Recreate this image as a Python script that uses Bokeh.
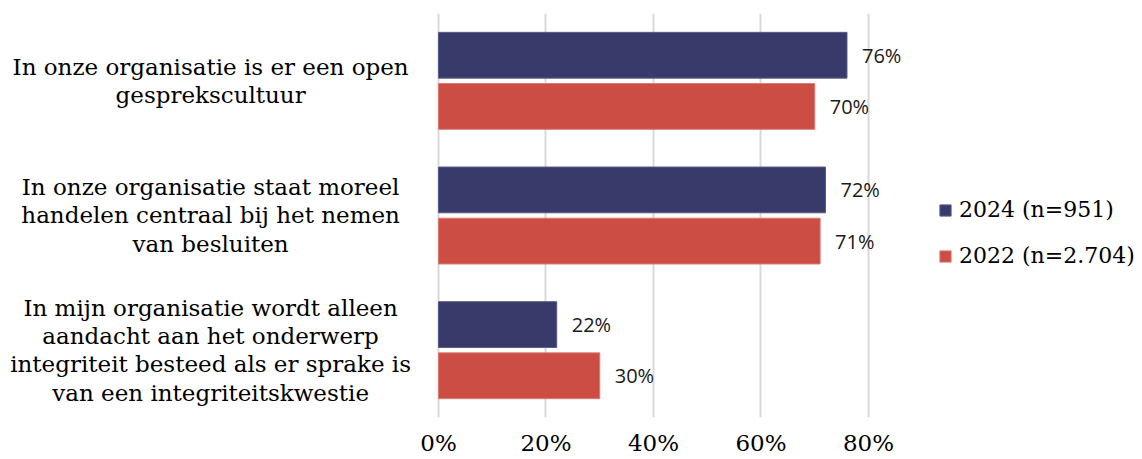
from bokeh.plotting import figure
from bokeh.models import (ColumnDataSource, FactorRange, Range1d, FixedTicker,
                          PrintfTickFormatter, Legend, LegendItem)
from bokeh.transform import dodge
from bokeh.core.properties import value
from bokeh.embed import file_html
from bokeh.resources import INLINE

# ---- data ----
categories = [
    "In onze organisatie is er een open\ngesprekscultuur",
    "In onze organisatie staat moreel\nhandelen centraal bij het nemen\nvan besluiten",
    "In mijn organisatie wordt alleen\naandacht aan het onderwerp\nintegriteit besteed als er sprake is\nvan een integriteitskwestie",
]
values_2024 = [76, 72, 22]
values_2022 = [70, 71, 30]
series_names = ["2024 (n=951)", "2022 (n=2.704)"]
tick_values = [0, 20, 40, 60, 80]

NAVY = "#383B69"
RED = "#CB4D44"
SERIF = "DejaVu Serif"
SANS = "Open Sans"

src = ColumnDataSource(dict(
    cat=categories,
    v24=values_2024,
    v22=values_2022,
    l24=[f"{v}%" for v in values_2024],
    l22=[f"{v}%" for v in values_2022],
    labx=[-42.4] * len(categories),
))

p = figure(width=1142, height=459, output_backend="svg", toolbar_location=None,
           y_range=FactorRange(factors=list(reversed(categories)), range_padding=0),
           x_range=Range1d(-81.49, 130.98),
           min_border_left=0, min_border_right=0, min_border_top=13,
           min_border_bottom=42)
p.outline_line_color = None
p.background_fill_color = "white"
p.border_fill_color = "white"

OFF = 0.19
H = 0.34
r24 = p.hbar(y=dodge("cat", OFF, range=p.y_range), left=0, right="v24", height=H,
             source=src, fill_color=NAVY, line_color="#5a5d88", line_width=1)
r22 = p.hbar(y=dodge("cat", -OFF, range=p.y_range), left=0, right="v22", height=H,
             source=src, fill_color=RED, line_color="#dc7a73", line_width=1)

p.text(x="v24", y=dodge("cat", OFF, range=p.y_range), text="l24", source=src,
       x_offset=15, text_align="left", text_baseline="middle",
       text_font=value(SANS), text_font_size="20px", text_color="#1a1a1a")
p.text(x="v22", y=dodge("cat", -OFF, range=p.y_range), text="l22", source=src,
       x_offset=15, text_align="left", text_baseline="middle",
       text_font=value(SANS), text_font_size="20px", text_color="#1a1a1a")

# category labels
p.text(x="labx", y="cat", text="cat", source=src, text_align="center",
       text_baseline="middle", text_font=value(SERIF), text_font_size="23px",
       text_line_height=1.09, text_color="#000000")

p.yaxis.visible = False
p.ygrid.visible = False
p.xgrid.ticker = FixedTicker(ticks=tick_values)
p.xgrid.grid_line_color = "#D9D9D9"
p.xgrid.grid_line_width = 2
p.xaxis.ticker = FixedTicker(ticks=tick_values)
p.xaxis.formatter = PrintfTickFormatter(format="%d%%")
p.xaxis.axis_line_color = None
p.xaxis.major_tick_line_color = None
p.xaxis.minor_tick_line_color = None
p.xaxis.major_label_standoff = 6
p.xaxis.major_label_text_font = SERIF
p.xaxis.major_label_text_font_size = "23px"
p.xaxis.major_label_text_color = "#000000"

legend = Legend(items=[LegendItem(label=series_names[0], renderers=[r24]),
                       LegendItem(label=series_names[1], renderers=[r22])],
                location=(938, 149), orientation="vertical",
                glyph_width=14, glyph_height=14, label_standoff=7,
                spacing=21, padding=0, margin=0,
                label_text_font=SERIF, label_text_font_size="22px",
                label_text_color="#000000", border_line_color=None,
                background_fill_alpha=0)
p.add_layout(legend)

open("out.html", "w").write(file_html(p, INLINE))
